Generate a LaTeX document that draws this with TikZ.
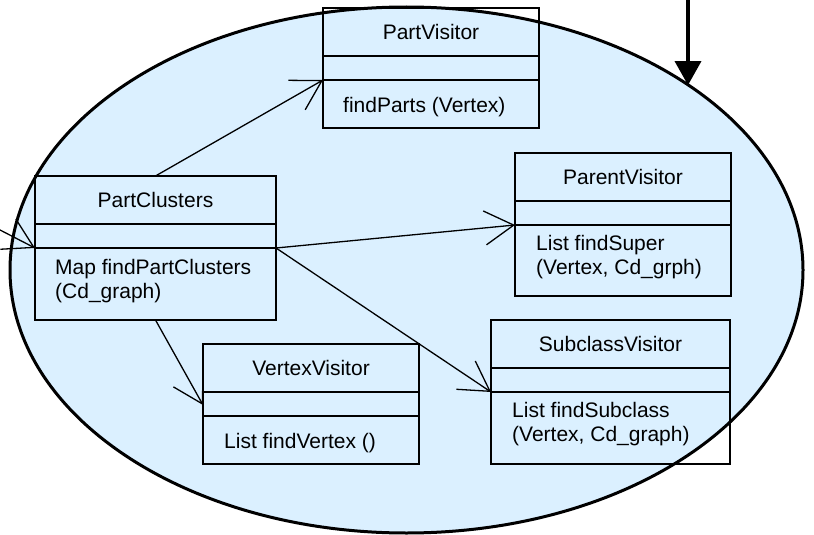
\documentclass[tikz,border=0pt]{standalone}
\usepackage{fontspec}
\setmainfont{Liberation Sans}
\usetikzlibrary{arrows.meta,shapes.geometric}
\definecolor{regionfill}{RGB}{219,240,255}

% class box: outline plus two compartment dividers and a centred title
\newcommand\umlclass[6]{%
  \node[classbox, minimum width=#4pt, minimum height=#5pt] (#1) at (#2,#3) {};
  \draw[divider] ([yshift=-48pt]#1.north west) -- ([yshift=-48pt]#1.north east);
  \draw[divider] ([yshift=-72pt]#1.north west) -- ([yshift=-72pt]#1.north east);
  \node[ctitle] (#1-title) at ([yshift=-31.5pt]#1.north) {#6};
}

\begin{document}
\begin{tikzpicture}[x=1pt,y=-1pt,
  classbox/.style={draw=black, line width=1.5pt, rectangle, inner sep=0pt, outer sep=0pt, anchor=north west},
  divider/.style={draw=black, line width=1.5pt},
  ctitle/.style={font=\fontsize{21}{25}\selectfont, inner sep=0pt, anchor=base},
  cline/.style={font=\fontsize{21}{25}\selectfont, inner sep=0pt, anchor=base west},
  assoc/.style={line width=1.3pt, -{Straight Barb[length=29pt,width=34pt]}},
  feed/.style={line width=3.5pt, -{Triangle[length=24pt,width=26pt]}},
]
\useasboundingbox (0,0) rectangle (814,535);

% component region
\node[ellipse, draw=black, fill=regionfill, line width=3pt,
      minimum width=793pt, minimum height=526pt, inner sep=0pt] (region) at (406.5,270) {};

% classes
\umlclass{PV}{323}{8}{216}{120}{PartVisitor}
\node[cline] (PV-m1) at ([xshift=20pt,yshift=-104pt]PV.north west) {findParts (Vertex)};

\umlclass{PC}{35}{176}{241}{144}{PartClusters}
\node[cline] (PC-m1) at ([xshift=20pt,yshift=-98pt]PC.north west) {Map findPartClusters};
\node[cline] (PC-m2) at ([xshift=20pt,yshift=-122pt]PC.north west) {(Cd\_graph)};

\umlclass{PaV}{515}{153}{216}{143}{ParentVisitor}
\node[cline] (PaV-m1) at ([xshift=21pt,yshift=-97pt]PaV.north west) {List findSuper};
\node[cline] (PaV-m2) at ([xshift=21pt,yshift=-121pt]PaV.north west) {(Vertex, Cd\_grph)};

\umlclass{SV}{491}{320}{239}{144}{SubclassVisitor}
\node[cline] (SV-m1) at ([xshift=21pt,yshift=-97pt]SV.north west) {List findSubclass};
\node[cline] (SV-m2) at ([xshift=21pt,yshift=-121pt]SV.north west) {(Vertex, Cd\_graph)};

\umlclass{VV}{203}{344}{216}{120}{VertexVisitor}
\node[cline] (VV-m1) at ([xshift=21pt,yshift=-104pt]VV.north west) {List findVertex ()};

% associations
\draw[assoc] (PC.north) -- ([yshift=-72pt]PV.north west);
\draw[assoc] ([yshift=-72pt]PC.north east) -- ([yshift=-72pt]PaV.north west);
\draw[assoc] ([yshift=-72pt]PC.north east) -- ([yshift=-72pt]SV.north west);
\draw[assoc] (PC.south) -- ([yshift=-61pt]VV.north west);

% incoming association from outside the region
\coordinate (inflow) at (-5,227.4);
\draw[assoc] (inflow) -- ([yshift=-72pt]PC.north west);

% request arrow into the region
\coordinate (feedsrc) at (688,-5);
\draw[feed] (feedsrc) -- (feedsrc |- region.33.6);
\end{tikzpicture}
\end{document}
